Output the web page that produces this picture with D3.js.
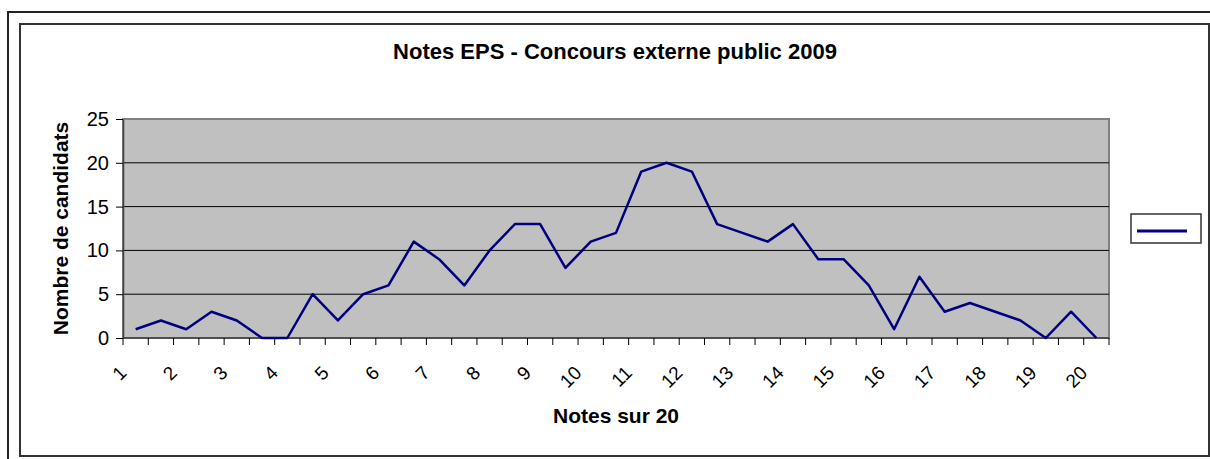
<!DOCTYPE html>
<html>
<head>
<meta charset="utf-8">
<script src="https://cdn.jsdelivr.net/npm/d3@7"></script>
<style>
  body { margin: 0; background: #fff; }
  text { font-family: "Liberation Sans", Arial, sans-serif; fill: #000; }
</style>
</head>
<body>
<div id="graph"></div>
<script>
// notes sur 20, par demi-point
var notes = [1, 1.5, 2, 2.5, 3, 3.5, 4, 4.5, 5, 5.5, 6, 6.5, 7, 7.5, 8, 8.5, 9, 9.5, 10, 10.5,
             11, 11.5, 12, 12.5, 13, 13.5, 14, 14.5, 15, 15.5, 16, 16.5, 17, 17.5, 18, 18.5, 19, 19.5, 20];
// nombre de candidats
var candidats = [1, 2, 1, 3, 2, 0, 0, 5, 2, 5, 6, 11, 9, 6, 10, 13, 13, 8, 11, 12,
                 19, 20, 19, 13, 12, 11, 13, 9, 9, 6, 1, 7, 3, 4, 3, 2, 0, 3, 0];
var xLabels = ["1", "2", "3", "4", "5", "6", "7", "8", "9", "10",
               "11", "12", "13", "14", "15", "16", "17", "18", "19", "20"];
var yTicks = [0, 5, 10, 15, 20, 25];

var W = 1210, H = 459;
var plotL = 123, plotR = 1109, plotT = 119, plotB = 338;

var svg = d3.select("#graph").append("svg").attr("width", W).attr("height", H);

// outer frame (only top and left visible)
svg.append("path")
    .attr("d", "M8," + H + "V12H" + W)
    .style("fill", "none").style("stroke", "#222").style("stroke-width", 2);
// chart area frame
svg.append("rect")
    .attr("x", 20).attr("y", 24).attr("width", 1189).attr("height", 432)
    .style("fill", "#fff").style("stroke", "#333").style("stroke-width", 2);

var x = d3.scaleBand().domain(notes).range([plotL, plotR]);
var y = d3.scaleLinear().domain([0, 25]).range([plotB, plotT]);

// plot area
svg.append("rect")
    .attr("x", plotL).attr("y", plotT).attr("width", plotR - plotL).attr("height", plotB - plotT)
    .style("fill", "#c0c0c0").style("stroke", "#808080").style("stroke-width", 2);

// gridlines
svg.selectAll(".grid")
    .data(yTicks.filter(function(d){ return d > 0 && d < 25; }))
    .enter()
    .append("line")
        .attr("x1", plotL).attr("x2", plotR)
        .attr("y1", function(d){ return y(d); })
        .attr("y2", function(d){ return y(d); })
        .style("stroke", "#000").style("stroke-width", 1);

// y axis
var yAxis = svg.append("g")
    .attr("transform", "translate(" + plotL + ",0)")
    .call(d3.axisLeft(y).tickValues(yTicks).tickSize(7).tickPadding(7).tickSizeOuter(0));
yAxis.select(".domain").style("stroke", "#404040").style("stroke-width", 1.5);
yAxis.selectAll(".tick line").style("stroke", "#000");
yAxis.selectAll(".tick text")
    .style("font-size", "20px")
    .style("font-family", "Liberation Sans, Arial, sans-serif");

// x axis line
svg.append("line")
    .attr("x1", plotL).attr("x2", plotR)
    .attr("y1", plotB).attr("y2", plotB)
    .style("stroke", "#404040").style("stroke-width", 1.5);

// x tick marks between categories
var bounds = notes.map(function(d){ return x(d); }).concat([x.range()[1]]);
svg.selectAll(".xtick")
    .data(bounds)
    .enter()
    .append("line")
        .attr("x1", function(d){ return d; })
        .attr("x2", function(d){ return d; })
        .attr("y1", plotB).attr("y2", plotB + 7)
        .style("stroke", "#000");

// x labels, every integer note
svg.selectAll(".xlab")
    .data(xLabels)
    .enter()
    .append("text")
        .attr("transform", function(d){
            var cx = x(+d) + x.bandwidth() / 2 - 8;
            return "translate(" + cx + ",374) rotate(-45)";
        })
        .attr("text-anchor", "end")
        .style("font-size", "19px")
        .text(function(d){ return d; });

// series line
var line = d3.line()
    .x(function(d, i){ return x(notes[i]) + x.bandwidth() / 2; })
    .y(function(d){ return y(d); });
svg.append("path")
    .datum(candidats)
    .attr("d", line)
    .style("fill", "none")
    .style("stroke", "#000080")
    .style("stroke-width", 2.5)
    .style("stroke-linejoin", "round");

// titles
svg.append("text")
    .attr("x", 615).attr("y", 59)
    .attr("text-anchor", "middle")
    .style("font-size", "22px").style("font-weight", "bold")
    .text("Notes EPS - Concours externe public 2009");

svg.append("text")
    .attr("x", 616).attr("y", 423)
    .attr("text-anchor", "middle")
    .style("font-size", "21px").style("font-weight", "bold")
    .text("Notes sur 20");

svg.append("text")
    .attr("transform", "translate(68," + ((plotT + plotB) / 2) + ") rotate(-90)")
    .attr("text-anchor", "middle")
    .style("font-size", "21px").style("font-weight", "bold")
    .text("Nombre de candidats");

// legend (series has no name)
svg.append("rect")
    .attr("x", 1131).attr("y", 214).attr("width", 70).attr("height", 29)
    .style("fill", "#fff").style("stroke", "#333").style("stroke-width", 1.5);
svg.append("line")
    .attr("x1", 1137).attr("x2", 1187).attr("y1", 231).attr("y2", 231)
    .style("stroke", "#000080").style("stroke-width", 3);
</script>
</body>
</html>
